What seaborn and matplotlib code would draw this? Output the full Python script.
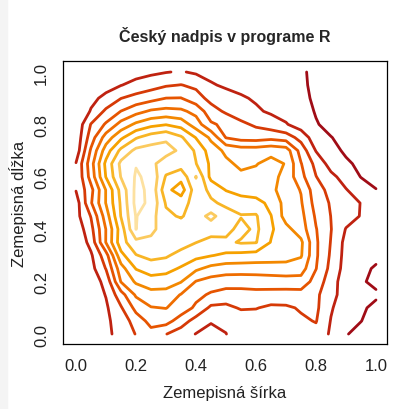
import matplotlib
matplotlib.use("Agg")
import matplotlib.pyplot as plt
from matplotlib.patches import Rectangle
import numpy as np
import seaborn as sns

# heights, one row per y (0.00 at the bottom, step 0.05), one column per x
x_grid = [0.00, 0.05, 0.10, 0.15, 0.20, 0.25, 0.30, 0.35, 0.40, 0.45, 0.50,
          0.55, 0.60, 0.65, 0.70, 0.75, 0.80, 0.85, 0.90, 0.95, 1.00]
y_grid = [0.00, 0.05, 0.10, 0.15, 0.20, 0.25, 0.30, 0.35, 0.40, 0.45, 0.50,
          0.55, 0.60, 0.65, 0.70, 0.75, 0.80, 0.85, 0.90, 0.95, 1.00]
heights = [
    [103, 105, 108, 113, 120.5, 127, 120.3, 115, 109.7, 106, 109.9, 113, 114, 115, 115, 116, 117, 108.5, 100.6, 97, 95],
    [102, 104, 108.5, 113.5, 125, 133, 134, 125, 116, 111, 111, 114, 115, 116, 117, 118.5, 120.5, 109.5, 104, 100.2, 96],
    [100.5, 102.5, 108.5, 119, 133, 139.5, 140.3, 136, 128, 118, 117.5, 121, 120.5, 118, 118.5, 121, 122, 111, 104, 101, 98.5],
    [101, 103.5, 110.5, 126, 141.5, 146, 145.5, 139.5, 133, 128.5, 126, 126.5, 127, 126.5, 126, 126, 122, 113.5, 105, 102, 101],
    [101.5, 104.5, 113, 140.5, 151.5, 156, 155.5, 150.5, 139.5, 136, 134.5, 134, 134.5, 135, 135.5, 136, 126, 114.5, 104.5, 100.8, 98.5],
    [102, 106.5, 120.5, 146, 160.5, 164.5, 163, 159, 152, 147, 145, 145, 145, 145.5, 146, 144.5, 130.3, 117, 106, 101.5, 99.3],
    [100.5, 108.5, 126, 157, 169.5, 173, 171.5, 166, 163, 160.5, 158, 157, 156, 155, 154, 151, 131.5, 118.5, 106.5, 103, 101.5],
    [101, 113.5, 140.5, 166, 177, 179, 178.5, 175, 170.2, 167, 168, 171, 170.5, 159.5, 155, 152, 131.5, 119.5, 107, 104.5, 103],
    [103, 117, 140.3, 165, 190.2, 181, 178, 176, 174, 174, 173, 167, 172, 161.5, 153, 145, 130.5, 120.3, 109.5, 106, 104],
    [106.5, 120.5, 145, 170.5, 190.5, 184, 172, 169, 175, 183, 174, 170.5, 171, 160.3, 146, 143, 128.5, 119.8, 114, 109.5, 104],
    [105, 129, 150.5, 171.5, 193, 188, 169, 166, 174, 171.5, 168, 166, 164, 157, 146.5, 141, 126, 119, 113, 109.8, 102.5],
    [110.5, 127, 150.5, 173.5, 192.5, 188, 163, 155, 176, 167.5, 159.5, 155, 154, 152.5, 145, 139.5, 124, 117, 110.5, 105, 100.2],
    [110.5, 134, 160.5, 180.5, 191, 188, 169, 163.3, 180.5, 157, 153, 152, 152.5, 153, 147, 133, 120.3, 112.5, 106, 99.7, 98],
    [110.5, 136, 162.5, 182.5, 189.5, 182, 176, 175, 170.3, 158, 152, 148, 149.5, 153, 149.5, 130.5, 117, 106, 101.5, 98, 97],
    [104, 131.5, 155, 172.5, 182.5, 184, 183, 178.5, 168.5, 155, 148, 145, 145, 147, 145, 126, 109.5, 103, 98.5, 97, 96],
    [103, 125, 144.5, 158, 169, 175, 178.5, 171.5, 159.5, 148, 129.5, 126, 125.5, 127, 125, 116.5, 104, 100.2, 98, 97, 96],
    [102, 120.5, 131.3, 143.5, 152, 157, 159.5, 156, 145, 131.5, 127.5, 122, 118.5, 115, 110.8, 105, 100.5, 98, 97, 96, 95.5],
    [101, 110.8, 122, 130.2, 136.5, 141.5, 143, 142, 137, 124, 118.5, 115, 111.5, 108.5, 106, 103, 99.5, 97.5, 96.5, 95.5, 95],
    [100.5, 107.5, 112.5, 119.8, 123.5, 126.5, 130.1, 130.3, 124, 117, 114, 111.2, 108.8, 106.5, 104.5, 101.5, 99, 97.5, 96.5, 95.5, 94.5],
    [100.5, 104, 106.5, 109.7, 113, 116, 119, 120.3, 118, 111, 108.5, 107, 105.5, 104, 102.5, 100.8, 99, 97.5, 96.5, 95.5, 95],
    [100.2, 102, 103.5, 105, 106.5, 108, 109.6, 110.8, 108.5, 107, 106, 105, 104, 103, 102, 100.6, 99, 98, 97, 96, 95],
]
levels = [100, 110, 120, 130, 140, 150, 160, 170, 180, 190]
line_colors = ['#a00c16', '#bf2210', '#d63a06', '#e65400', '#ef6d00',
               '#f38800', '#f6a100', '#f8b525', '#fbca5e', '#fde1a0']
ticks = [0.0, 0.2, 0.4, 0.6, 0.8, 1.0]
tick_labels = ['0.0', '0.2', '0.4', '0.6', '0.8', '1.0']

sns.set_style("white")
plt.rcParams['font.family'] = ['Liberation Sans', 'DejaVu Sans']

fig = plt.figure(figsize=(4.09, 4.10), dpi=100)
fig.patches.append(Rectangle((0, 0), 7 / 409, 1, transform=fig.transFigure,
                             color='#f4f4f4', zorder=0))
ax = fig.add_axes([63 / 409, 1 - 345 / 410, 324 / 409, 283 / 410])

cs = ax.contour(x_grid, y_grid, np.array(heights), levels=levels,
                colors=line_colors, linewidths=2.0)
for coll in ax.collections:
    coll.set_joinstyle('round')
    coll.set_capstyle('round')

ax.set_xlim(-0.0433, 1.0367)
ax.set_ylim(-0.038, 1.042)
ax.set_xticks(ticks)
ax.set_xticklabels(tick_labels)
ax.set_yticks(ticks)
ax.set_yticklabels(tick_labels, rotation=90, va='center')
ax.tick_params(direction='out', length=5, width=0.9, color='black',
               labelsize=12, labelcolor='#222222', pad=5)
for s in ax.spines.values():
    s.set_color('black')
    s.set_linewidth(0.9)

fig.text(225 / 409, 1 - 36 / 410, 'Český nadpis v programe R',
         ha='center', va='center', fontsize=11.5, fontweight='bold')
fig.text(225 / 409, 1 - 394 / 410, 'Zemepisná šírka',
         ha='center', va='center', fontsize=12, color='#222222')
fig.text(18 / 409, 1 - 204 / 410, 'Zemepisná dĺžka', rotation=90,
         ha='center', va='center', fontsize=12, color='#222222')

fig.savefig('out.png', dpi=100)
